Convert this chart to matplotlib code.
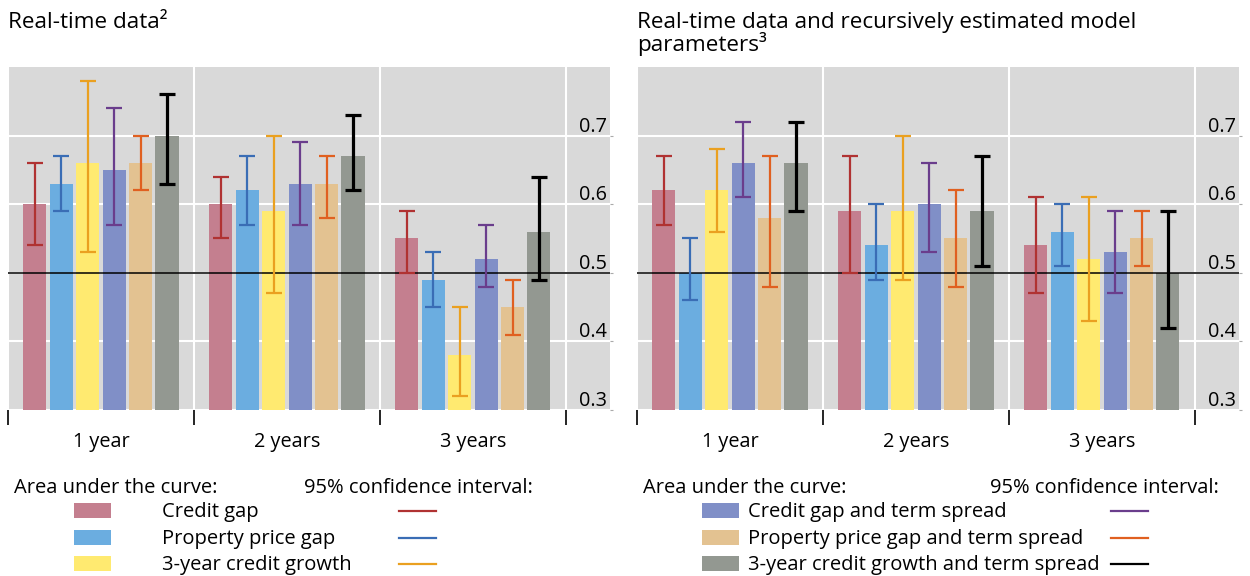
import matplotlib
matplotlib.use("Agg")
import matplotlib.pyplot as plt
import numpy as np
from matplotlib.patches import Rectangle
from matplotlib.lines import Line2D
from matplotlib.transforms import blended_transform_factory

plt.rcParams["font.family"] = ["Open Sans", "DejaVu Sans"]

HORIZONS = ["1 year", "2 years", "3 years"]
SERIES = [
    "Credit gap",
    "Property price gap",
    "3-year credit growth",
    "Credit gap and term spread",
    "Property price gap and term spread",
    "3-year credit growth and term spread",
]
BAR_COLORS = ["#c47f8f", "#6badE0", "#ffea70", "#808fc7", "#e3c291", "#939891"]
CI_COLORS = ["#b03232", "#3a6db5", "#eaa020", "#6a3d8c", "#e06020", "#000000"]

# AUC per series (rows) and horizon (cols), real-time data
rt_auc = [[0.60, 0.60, 0.55],
          [0.63, 0.62, 0.49],
          [0.66, 0.59, 0.38],
          [0.65, 0.63, 0.52],
          [0.66, 0.63, 0.45],
          [0.70, 0.67, 0.56]]
rt_lo = [[0.54, 0.55, 0.50],
         [0.59, 0.57, 0.45],
         [0.53, 0.47, 0.32],
         [0.57, 0.57, 0.48],
         [0.62, 0.58, 0.41],
         [0.63, 0.62, 0.49]]
rt_hi = [[0.66, 0.64, 0.59],
         [0.67, 0.67, 0.53],
         [0.78, 0.70, 0.45],
         [0.74, 0.69, 0.57],
         [0.70, 0.67, 0.49],
         [0.76, 0.73, 0.64]]

# real-time data + recursively estimated parameters
rec_auc = [[0.62, 0.59, 0.54],
           [0.50, 0.54, 0.56],
           [0.62, 0.59, 0.52],
           [0.66, 0.60, 0.53],
           [0.58, 0.55, 0.55],
           [0.66, 0.59, 0.50]]
rec_lo = [[0.57, 0.50, 0.47],
          [0.46, 0.49, 0.51],
          [0.56, 0.49, 0.43],
          [0.61, 0.53, 0.47],
          [0.48, 0.48, 0.51],
          [0.59, 0.51, 0.42]]
rec_hi = [[0.67, 0.67, 0.61],
          [0.55, 0.60, 0.60],
          [0.68, 0.70, 0.61],
          [0.72, 0.66, 0.59],
          [0.67, 0.62, 0.59],
          [0.72, 0.67, 0.59]]

Y_TICKS = [0.3, 0.4, 0.5, 0.6, 0.7]

W, H = 1250, 576
fig = plt.figure(figsize=(W / 100, H / 100), dpi=100)


def fx(x):
    return x / W


def fy(y):
    return 1 - y / H


def panel(left_px, auc, lo, hi):
    ax = fig.add_axes([fx(left_px), fy(410), 602 / W, 343 / H])
    ax.set_facecolor("#d9d9d9")
    for s in ax.spines.values():
        s.set_visible(False)
    ax.set_xlim(-0.5, 2.737)
    ax.set_ylim(0.3, 0.8)

    x = np.arange(len(HORIZONS))
    step, width = 0.142, 0.124
    for i in range(len(SERIES)):
        xi = x + (i - 2.5) * step
        v = np.array(auc[i])
        err = [v - np.array(lo[i]), np.array(hi[i]) - v]
        ax.bar(xi, v, width=width, color=BAR_COLORS[i], zorder=2)
        lw = 2.3 if CI_COLORS[i] == "#000000" else 1.6
        ax.errorbar(xi, v, yerr=err, fmt="none", ecolor=CI_COLORS[i],
                    elinewidth=lw, capsize=5.6, capthick=lw, zorder=4)

    ax.axhline(0.5, color="black", lw=1.1, zorder=3)

    # grid: white lines at y ticks and at the horizon dividers
    ax.set_yticks(Y_TICKS)
    ax.tick_params(axis="y", left=False, right=True, length=2,
                   color="#aaaaaa", labelleft=False, labelright=False)
    ax.grid(axis="y", color="white", lw=1.5, zorder=1)
    ax.set_xticks([-0.5, 0.5, 1.5, 2.5], minor=True)
    ax.grid(axis="x", which="minor", color="white", lw=1.5, zorder=1)
    ax.set_axisbelow(True)

    ax.set_xticks(x, HORIZONS)
    ax.tick_params(axis="x", which="major", length=0, pad=16, labelsize=14.3)
    ax.tick_params(axis="x", which="minor", length=11, width=1.2,
                   color="black", direction="out")

    tr = blended_transform_factory(ax.transAxes, ax.transData)
    for v in Y_TICKS:
        ax.annotate(f"{v:.1f}", xy=(1, v), xycoords=tr, xytext=(-3, 4),
                    textcoords="offset pixels", ha="right", va="baseline",
                    fontsize=14.3)
    return ax


panel(8, rt_auc, rt_lo, rt_hi)
panel(637, rec_auc, rec_lo, rec_hi)

fig.text(fx(8), fy(28), "Real-time data\u00b2", fontsize=16.2, va="baseline")
fig.text(fx(637), fy(28), "Real-time data and recursively estimated model",
         fontsize=16.2, va="baseline")
fig.text(fx(637), fy(51), "parameters\u00b3", fontsize=16.2, va="baseline")


def legend_block(x_head, x_ci_head, x_patch, x_label, x_line, idx):
    fig.text(fx(x_head), fy(493), "Area under the curve:", fontsize=14.5,
             va="baseline")
    fig.text(fx(x_ci_head), fy(493), "95% confidence interval:", fontsize=14.5,
             va="baseline")
    for row, i in enumerate(idx):
        yc = [510.5, 537.5, 563.5][row]
        fig.add_artist(Rectangle((fx(x_patch), fy(yc + 7.5)), 37 / W, 15 / H,
                                 transform=fig.transFigure,
                                 color=BAR_COLORS[i], lw=0))
        fig.text(fx(x_label), fy(yc + 6.5), SERIES[i], fontsize=14.5,
                 va="baseline")
        fig.add_artist(Line2D([fx(x_line), fx(x_line + 37)], [fy(yc), fy(yc)],
                              transform=fig.transFigure,
                              color=CI_COLORS[i], lw=1.6))


legend_block(14, 304, 74, 162, 399, [0, 1, 2])
legend_block(643, 990, 702, 748, 1111, [3, 4, 5])

fig.savefig("out.png", dpi=100)
